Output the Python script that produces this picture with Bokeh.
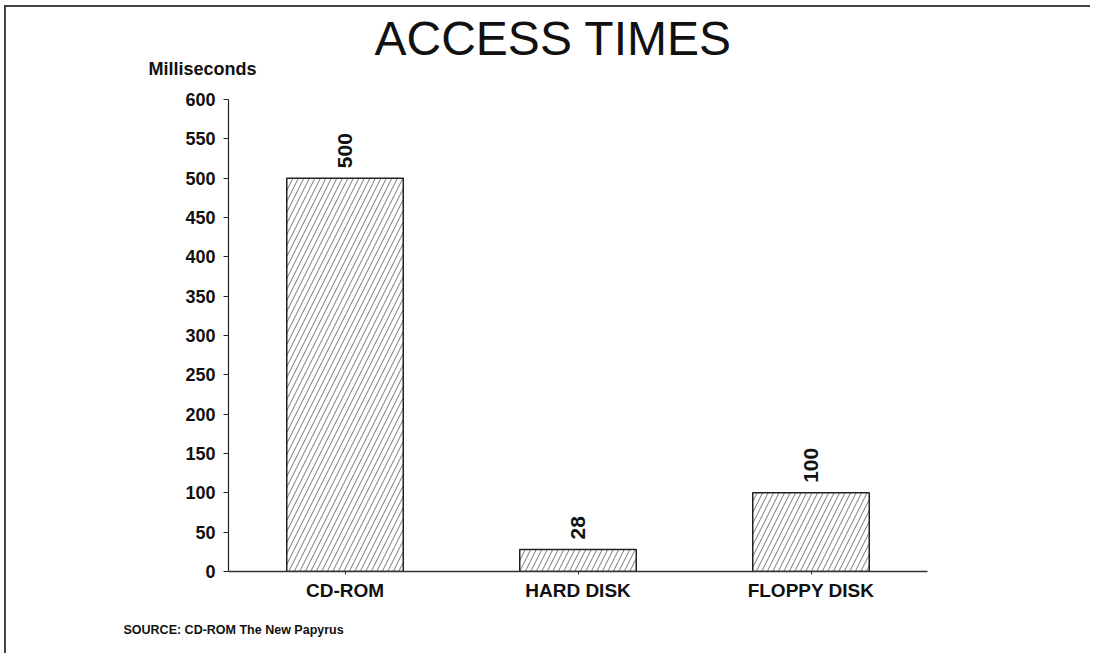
import math
from bokeh.plotting import figure
from bokeh.models import ColumnDataSource, Title, FactorRange, Range1d, FixedTicker
from bokeh.embed import file_html
from bokeh.resources import INLINE

categories = ["CD-ROM", "HARD DISK", "FLOPPY DISK"]
values = [500, 28, 100]
value_labels = ["500", "28", "100"]
y_ticks = list(range(0, 601, 50))

title_text = "ACCESS TIMES"
y_label_text = "Milliseconds"
source_text = "SOURCE:  CD-ROM The New Papyrus"

FONT = "Liberation Sans"

src = ColumnDataSource(dict(cat=categories, val=values, lab=value_labels))

p = figure(
    x_range=FactorRange(*categories, range_padding=0.0),
    y_range=Range1d(0, 600),
    width=1082, height=646,
    frame_width=699, frame_height=472,
    min_border_left=222, min_border_top=92, min_border_right=163, min_border_bottom=74,
    output_backend="svg", toolbar_location=None,
)
p.styles = {"border-left": "2px solid #444", "border-top": "2px solid #444",
            "margin-left": "4px", "margin-top": "5px"}
p.outline_line_color = None
p.grid.grid_line_color = None
p.background_fill_color = "white"
p.border_fill_color = "white"

p.vbar(x="cat", top="val", width=0.5, source=src,
       fill_color="white", line_color="#222", line_width=1.5,
       hatch_pattern="/", hatch_color="#777", hatch_scale=11, hatch_weight=1)

p.text(x="cat", y="val", text="lab", source=src, angle=math.pi / 2,
       x_offset=0, y_offset=-10,
       text_align="left", text_baseline="middle",
       text_font_size="21px", text_font_style="bold", text_color="#111",
       text_font={"value": FONT})

# y axis
p.yaxis.ticker = FixedTicker(ticks=y_ticks)
p.yaxis.minor_tick_line_color = None
p.yaxis.major_tick_out = 5
p.yaxis.major_tick_in = 0
p.yaxis.axis_line_color = "#222"
p.yaxis.axis_line_width = 1.2
p.yaxis.major_tick_line_color = "#222"
p.yaxis.major_label_text_font = FONT
p.yaxis.major_label_text_font_style = "bold"
p.yaxis.major_label_text_font_size = "18px"
p.yaxis.major_label_text_color = "#111"
p.yaxis.major_label_standoff = 8

# x axis
p.xaxis.axis_line_color = "#333"
p.xaxis.axis_line_width = 1.5
p.xaxis.major_tick_out = 3
p.xaxis.major_tick_in = 0
p.xaxis.major_tick_line_color = "#333"
p.xaxis.major_label_text_font = FONT
p.xaxis.major_label_text_font_style = "bold"
p.xaxis.major_label_text_font_size = "19px"
p.xaxis.major_label_text_color = "#111"
p.xaxis.major_label_standoff = 5

# titles in the side panels
p.title.text = title_text
p.title.align = "left"
p.title.offset = 146
p.title.text_font = FONT
p.title.text_font_size = "48px"
p.title.text_font_style = "normal"
p.title.text_color = "#111"
p.title.standoff = -57

p.add_layout(Title(text=y_label_text, align="left", offset=-80, standoff=41,
                   text_font=FONT, text_font_size="18px", text_font_style="bold",
                   text_color="#111"), "above")
p.add_layout(Title(text=source_text, align="left", offset=-105, standoff=34,
                   text_font=FONT, text_font_size="12.5px", text_font_style="bold",
                   text_color="#111"), "below")

open("out.html", "w").write(file_html(p, INLINE))
